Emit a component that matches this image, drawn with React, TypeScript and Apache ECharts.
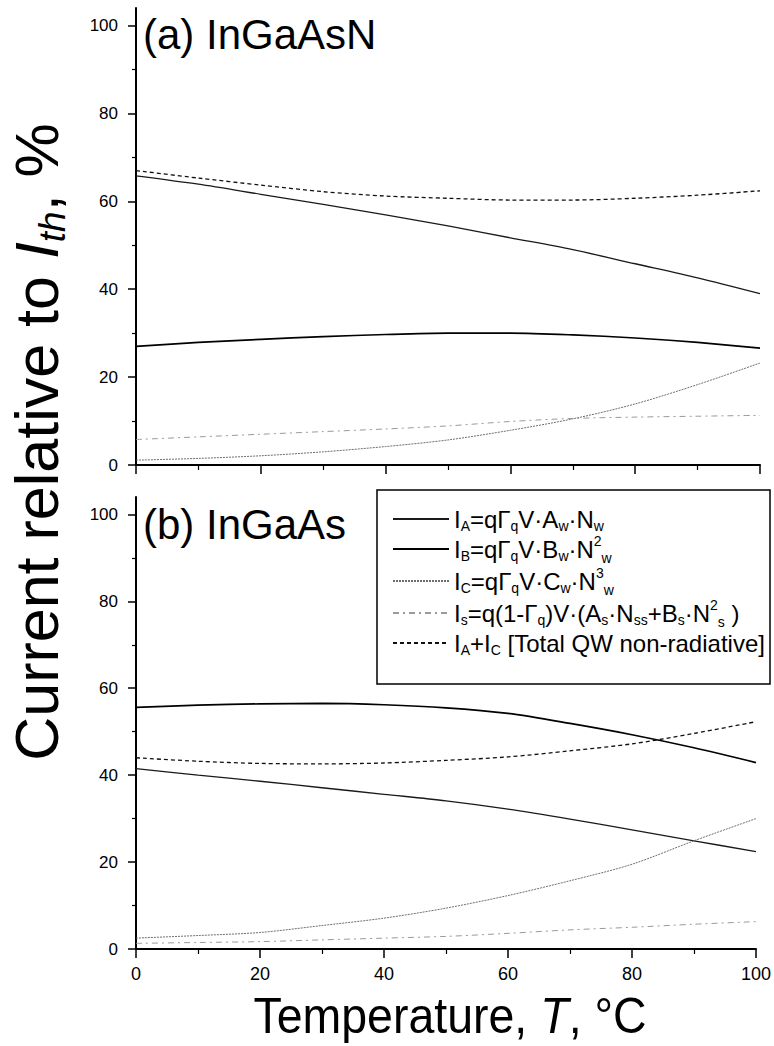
import React, { useEffect, useRef } from "react";
import * as echarts from "echarts";

// Temperature grid, °C
const temperature = [0, 10, 20, 30, 40, 50, 60, 70, 80, 90, 100];

// (a) InGaAsN — current components relative to threshold, %
const inGaAsN_IA = [65.8, 63.9, 61.6, 59.3, 56.9, 54.4, 51.7, 49.0, 45.8, 42.6, 39.0];
const inGaAsN_IB = [27.0, 27.9, 28.6, 29.2, 29.7, 30.0, 30.0, 29.6, 28.9, 27.9, 26.6];
const inGaAsN_IC = [1.1, 1.5, 2.1, 3.0, 4.2, 5.7, 7.9, 10.5, 13.9, 18.3, 23.2];
const inGaAsN_Is = [5.8, 6.4, 7.0, 7.6, 8.2, 8.9, 9.9, 10.6, 10.9, 11.1, 11.3];
const inGaAsN_total = [67.0, 65.3, 63.7, 62.2, 61.2, 60.7, 60.3, 60.3, 60.7, 61.4, 62.4];

// (b) InGaAs — current components relative to threshold, %
const inGaAs_IA = [41.5, 40.0, 38.6, 37.1, 35.6, 34.1, 32.2, 29.9, 27.4, 24.9, 22.4];
const inGaAs_IB = [55.6, 56.1, 56.4, 56.5, 56.2, 55.5, 54.2, 51.9, 49.3, 46.3, 42.9];
const inGaAs_IC = [2.5, 3.1, 3.8, 5.4, 7.1, 9.4, 12.3, 15.7, 19.5, 24.9, 30.0];
const inGaAs_Is = [1.3, 1.5, 1.7, 2.1, 2.5, 2.9, 3.6, 4.4, 5.0, 5.7, 6.3];
const inGaAs_total = [44.0, 43.2, 42.7, 42.6, 42.8, 43.4, 44.2, 45.6, 47.2, 49.6, 52.3];

const xTicks = [0, 20, 40, 60, 80, 100];
const yMajorTicks = [0, 20, 40, 60, 80, 100];
const yMinorTicks = [10, 30, 50, 70, 90];

const seriesNames = ["IA", "IB", "IC", "Is", "Total"];

const FONT = '"Liberation Sans", Arial, Helvetica, sans-serif';

const lineStyles: Record<string, any> = {
  IA: { color: "#1a1a1a", width: 1.3, type: "solid" },
  IB: { color: "#000000", width: 1.7, type: "solid" },
  IC: { color: "#6e6e6e", width: 1, type: [2, 1] },
  Is: { color: "#9a9a9a", width: 1, type: [6, 4, 2, 4] },
  Total: { color: "#111111", width: 1.3, type: [4, 3] },
};

const legendLabels: Record<string, string> = {
  IA: "{m|I}{s|A}{m|=qΓ}{s|q}{m|V·A}{s|w}{m|·N}{s|w}",
  IB: "{m|I}{s|B}{m|=qΓ}{s|q}{m|V·B}{s|w}{m|·N}{p|2}{s2|w}",
  IC: "{m|I}{s|C}{m|=qΓ}{s|q}{m|V·C}{s|w}{m|·N}{p|3}{s2|w}",
  Is: "{m|I}{s|s}{m|=q(1-Γ}{s|q}{m|)V·(A}{s|s}{m|·N}{s|ss}{m|+B}{s|s}{m|·N}{p|2}{s2|s}{m| )}",
  Total: "{m|I}{s|A}{m|+I}{s|C}{m| [Total QW non-radiative]}",
};

const panels = [
  {
    IA: inGaAsN_IA,
    IB: inGaAsN_IB,
    IC: inGaAsN_IC,
    Is: inGaAsN_Is,
    Total: inGaAsN_total,
  },
  {
    IA: inGaAs_IA,
    IB: inGaAs_IB,
    IC: inGaAs_IC,
    Is: inGaAs_Is,
    Total: inGaAs_total,
  },
];

function buildOption() {
  const grids = [
    { left: 136, right: 14, top: 8, height: 457 },
    { left: 136, right: 14, top: 497, height: 452 },
  ];

  const xAxes = grids.map((_, gi) => ({
    type: "value",
    gridIndex: gi,
    min: 0,
    max: 100,
    interval: 20,
    axisLine: { show: true, onZero: false, lineStyle: { color: "#000", width: 2 } },
    axisTick: { show: true, inside: false, length: 9, lineStyle: { color: "#000", width: 1.5 } },
    minorTick: { show: true, splitNumber: 2, length: 5, lineStyle: { color: "#000", width: 1.2 } },
    splitLine: { show: false },
    minorSplitLine: { show: false },
    axisLabel: {
      show: gi === 1,
      customValues: xTicks,
      color: "#000",
      fontFamily: FONT,
      fontSize: 18,
      margin: 16,
    },
  }));

  const yAxes: any[] = [];
  grids.forEach((_, gi) => {
    yAxes.push({
      type: "value",
      gridIndex: gi,
      position: "left",
      min: 0,
      max: 104,
      axisLine: { show: true, onZero: false, lineStyle: { color: "#000", width: 2 } },
      axisTick: {
        show: true,
        inside: false,
        length: 8,
        customValues: yMajorTicks,
        lineStyle: { color: "#000", width: 1.5 },
      },
      axisLabel: {
        show: true,
        customValues: yMajorTicks,
        color: "#000",
        fontFamily: FONT,
        fontSize: 17,
        margin: 18,
      },
      splitLine: { show: false },
    });
    // companion axis carrying the short minor ticks
    yAxes.push({
      type: "value",
      gridIndex: gi,
      position: "left",
      min: 0,
      max: 104,
      axisLine: { show: false },
      axisTick: {
        show: true,
        inside: false,
        length: 4,
        customValues: yMinorTicks,
        lineStyle: { color: "#000", width: 1.2 },
      },
      axisLabel: { show: false },
      splitLine: { show: false },
    });
  });

  const series: any[] = [];
  panels.forEach((panel: any, pi) => {
    seriesNames.forEach((name) => {
      const values: number[] = panel[name];
      series.push({
        type: "line",
        name,
        xAxisIndex: pi,
        yAxisIndex: pi * 2,
        data: temperature.map((t, i) => [t, values[i]]),
        smooth: 0.3,
        symbol: "none",
        showSymbol: false,
        lineStyle: { ...lineStyles[name] },
        itemStyle: { color: lineStyles[name].color },
        emphasis: { disabled: true },
        z: 3,
      });
    });
  });

  const subBase = { fontFamily: FONT, fontSize: 14, color: "#000", lineHeight: 16 };

  return {
    animation: false,
    backgroundColor: "#ffffff",
    grid: grids,
    xAxis: xAxes,
    yAxis: yAxes,
    series,
    legend: {
      orient: "vertical",
      left: 392,
      top: 505,
      itemWidth: 56,
      itemHeight: 14,
      itemGap: 0,
      padding: 0,
      selectedMode: false,
      data: seriesNames,
      itemStyle: {
        color: "rgba(0,0,0,0)",
        borderColor: "rgba(0,0,0,0)",
        borderWidth: 0,
        opacity: 0,
      },
      formatter: (name: string) => legendLabels[name],
      textStyle: {
        color: "#000",
        fontFamily: FONT,
        fontSize: 24,
        lineHeight: 28,
        rich: {
          m: { fontFamily: FONT, fontSize: 24, color: "#000", lineHeight: 28 },
          s: { ...subBase, padding: [14, 0, 0, 0] },
          p: { ...subBase, padding: [0, 0, 16, 0] },
          s2: { ...subBase, padding: [18, 0, 0, 0] },
        },
      },
    },
    graphic: [
      {
        type: "rect",
        shape: { x: 377, y: 490, width: 393, height: 194 },
        style: { fill: "none", stroke: "#000", lineWidth: 1.5 },
        z: 5,
      },
      {
        type: "text",
        x: 143,
        y: 13,
        style: {
          text: "(a) InGaAsN",
          font: `42px ${FONT}`,
          fill: "#000",
          align: "left",
          verticalAlign: "top",
        },
      },
      {
        type: "text",
        x: 143,
        y: 503,
        style: {
          text: "(b) InGaAs",
          font: `42px ${FONT}`,
          fill: "#000",
          align: "left",
          verticalAlign: "top",
        },
      },
      {
        type: "text",
        x: 37,
        y: 442,
        rotation: Math.PI / 2,
        style: {
          text: "{m|Current relative to }{i|I}{sb|th}{m|, %}",
          align: "center",
          verticalAlign: "middle",
          fill: "#000",
          rich: {
            m: { fontFamily: FONT, fontSize: 61, color: "#000", lineHeight: 72 },
            i: { fontFamily: FONT, fontSize: 61, fontStyle: "italic", color: "#000", lineHeight: 72 },
            sb: {
              fontFamily: FONT,
              fontSize: 37,
              fontStyle: "italic",
              color: "#000",
              lineHeight: 40,
              padding: [30, 0, 0, 0],
            },
          },
        },
      },
      {
        type: "text",
        x: 450,
        y: 1015,
        scaleX: 0.93,
        style: {
          text: "{m|Temperature, }{i|T}{m|, °C}",
          align: "center",
          verticalAlign: "middle",
          fill: "#000",
          rich: {
            m: { fontFamily: FONT, fontSize: 50, color: "#000" },
            i: { fontFamily: FONT, fontSize: 50, fontStyle: "italic", color: "#000" },
          },
        },
      },
    ],
  };
}

export default function App() {
  const ref = useRef<HTMLDivElement | null>(null);

  useEffect(() => {
    if (!ref.current) return;
    const chart = echarts.init(ref.current, undefined, { renderer: "svg" });
    chart.setOption(buildOption() as any);
    return () => {
      chart.dispose();
    };
  }, []);

  return (
    <div
      ref={ref}
      style={{ position: "absolute", left: 0, top: 0, width: 774, height: 1046, background: "#fff" }}
    />
  );
}
